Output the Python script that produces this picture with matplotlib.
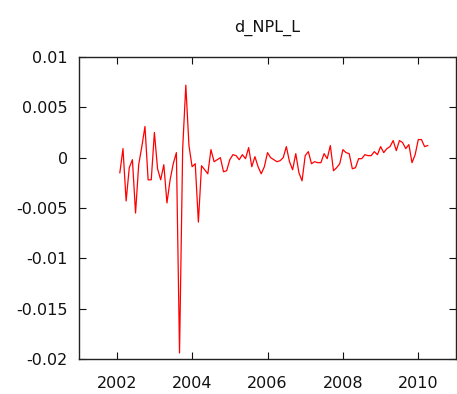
import numpy as np
import matplotlib
matplotlib.use("Agg")
import matplotlib.pyplot as plt

plt.rcParams["axes.unicode_minus"] = False

# monthly first differences, 2002:02 .. 2010:04
start_year = 2002
start_month = 2
d_npl_l = [
    -0.0015, 0.0009, -0.0043, -0.0010, -0.0002, -0.0055, -0.0007, 0.0011,
    0.0031, -0.0022, -0.0022, 0.0025, -0.0011, -0.0022, -0.0007, -0.0045,
    -0.0022, -0.0006, 0.0005, -0.0194, 0.0009, 0.0072, 0.0012, -0.0009,
    -0.0006, -0.0064, -0.0008, -0.0012, -0.0016, 0.0008, -0.0004, -0.0002,
    0.0000, -0.0014, -0.0013, -0.0002, 0.0003, 0.0002, -0.0002, 0.0003,
    -0.0001, 0.0010, -0.0009, 0.0001, -0.0009, -0.0016, -0.0009, 0.0005,
    0.0000, -0.0002, -0.0004, -0.0003, 0.0000, 0.0011, -0.0004, -0.0012,
    0.0004, -0.0015, -0.0023, 0.0002, 0.0006, -0.0006, -0.0004, -0.0005,
    -0.0005, 0.0004, -0.0001, 0.0012, -0.0013, -0.0010, -0.0006, 0.0008,
    0.0005, 0.0004, -0.0011, -0.0010, -0.0001, -0.0001, 0.0003, 0.0002,
    0.0002, 0.0006, 0.0003, 0.0011, 0.0005, 0.0009, 0.0011, 0.0017,
    0.0007, 0.0017, 0.0015, 0.0009, 0.0013, -0.0005, 0.0003, 0.0018,
    0.0018, 0.0011, 0.0012,
]
x_ticks = [2002, 2004, 2006, 2008, 2010]
y_ticks = [0.01, 0.005, 0, -0.005, -0.01, -0.015, -0.02]
y_labels = ["0.01", "0.005", "0", "-0.005", "-0.01", "-0.015", "-0.02"]

t = start_year + (start_month - 1) / 12 + np.arange(len(d_npl_l)) / 12

fig = plt.figure(figsize=(4.57, 3.94), dpi=100)
ax = fig.add_axes([79 / 457, 1 - 359 / 394, 377 / 457, 302 / 394])
ax.plot(t, d_npl_l, color="#ff0000", lw=0.9)

ax.set_xlim(2001, 2011)
ax.set_ylim(-0.02, 0.01)
ax.set_xticks(x_ticks)
ax.set_xticklabels([str(v) for v in x_ticks])
ax.set_yticks(y_ticks)
ax.set_yticklabels(y_labels)
ax.tick_params(direction="in", length=5, width=0.8, top=True, right=True,
               labelsize=11.5, colors="#111111")
ax.tick_params(axis="x", pad=12)
ax.tick_params(axis="y", pad=8)
for s in ax.spines.values():
    s.set_linewidth(1.0)
    s.set_color("#222222")
ax.set_title("d_NPL_L", fontsize=11.5, pad=18, color="#111111")

fig.savefig("out.png", dpi=100)
